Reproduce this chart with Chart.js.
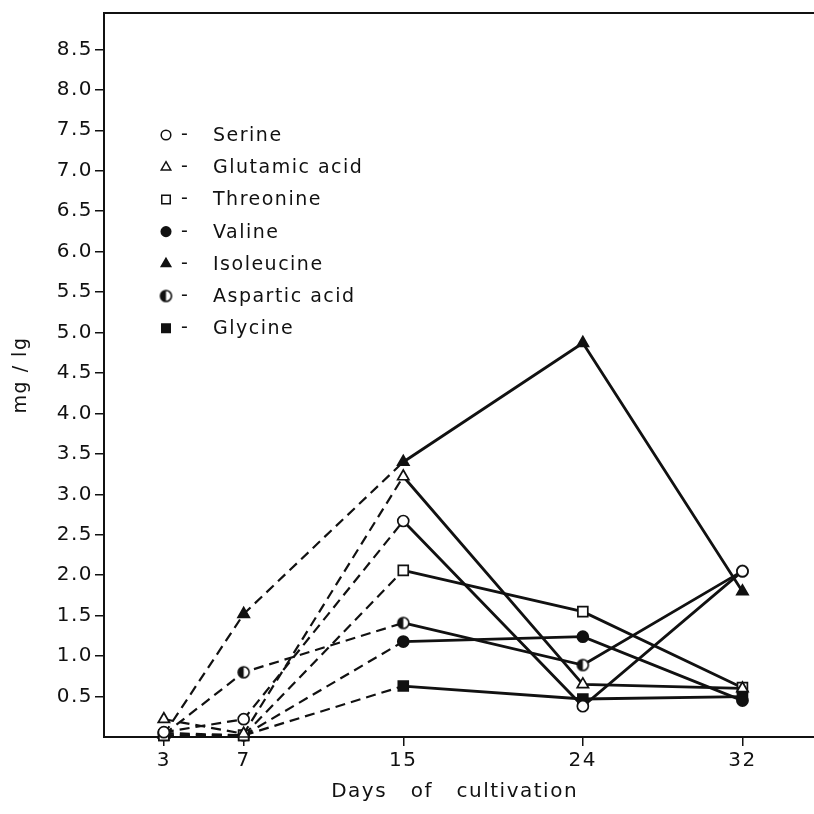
<!DOCTYPE html>
<html>
<head>
<meta charset="utf-8">
<script src="https://cdn.jsdelivr.net/npm/chart.js@4.4.0/dist/chart.umd.min.js"></script>
<style>
  html, body { margin: 0; padding: 0; background: #fff; }
  #wrap { width: 814px; height: 814px; }
</style>
</head>
<body>
<div id="wrap"><canvas id="c" width="814" height="814"></canvas></div>
<script>
// ---- data ----
const days = [3, 7, 15, 24, 32];
const yTicks = [0.5, 1.0, 1.5, 2.0, 2.5, 3.0, 3.5, 4.0, 4.5, 5.0, 5.5, 6.0, 6.5, 7.0, 7.5, 8.0, 8.5];
const seriesNames = ['Serine', 'Glutamic acid', 'Threonine', 'Valine', 'Isoleucine', 'Aspartic acid', 'Glycine'];
const serine     = [0.06, 0.22, 2.67, 0.38, 2.05];
const glutamic   = [0.22, 0.04, 3.22, 0.65, 0.60];
const threonine  = [0.02, 0.02, 2.06, 1.55, 0.61];
const valine     = [0.05, 0.02, 1.18, 1.24, 0.45];
const isoleucine = [0.03, 1.52, 3.40, 4.87, 1.80];
const aspartic   = [0.03, 0.80, 1.41, 0.89, 2.05];
const glycine    = [0.02, 0.02, 0.63, 0.47, 0.50];
const xTitle = 'Days   of   cultivation';
const yTitle = 'mg / lg';

const INK = '#111';
const FONT = '"DejaVu Sans", sans-serif';

function halfCircle(r) {
  const c = document.createElement('canvas');
  const s = Math.ceil(2 * r + 4);
  c.width = s; c.height = s;
  const g = c.getContext('2d');
  const m = s / 2;
  g.beginPath(); g.arc(m, m, r, 0, 2 * Math.PI); g.fillStyle = '#fff'; g.fill();
  g.beginPath(); g.moveTo(m, m - r); g.arc(m, m, r, -Math.PI / 2, Math.PI / 2, true); g.closePath();
  g.fillStyle = INK; g.fill();
  g.beginPath(); g.arc(m, m, r, 0, 2 * Math.PI); g.lineWidth = 1.6; g.strokeStyle = INK; g.stroke();
  return c;
}
const halfMarker = halfCircle(5.5);

const styles = [
  { pointStyle: 'circle',   fill: '#fff', radius: 5.5 },
  { pointStyle: 'triangle', fill: '#fff', radius: 6.5 },
  { pointStyle: 'rect',     fill: '#fff', radius: 7 },
  { pointStyle: 'circle',   fill: INK,    radius: 5.5 },
  { pointStyle: 'triangle', fill: INK,    radius: 6.5 },
  { pointStyle: halfMarker, fill: INK,    radius: 5.5 },
  { pointStyle: 'rect',     fill: INK,    radius: 7 }
];
const values = [serine, glutamic, threonine, valine, isoleucine, aspartic, glycine];

const datasets = values.map((vals, i) => ({
  label: seriesNames[i],
  data: days.map((d, j) => ({ x: d, y: vals[j] })),
  borderColor: INK,
  borderWidth: 2.8,
  pointStyle: styles[i].pointStyle,
  pointRadius: styles[i].radius,
  pointBackgroundColor: styles[i].fill,
  pointBorderColor: INK,
  pointBorderWidth: 1.7,
  tension: 0,
  clip: false,
  segment: {
    borderDash: ctx => (ctx.p1DataIndex <= 2 ? [10, 6] : undefined),
    borderWidth: ctx => (ctx.p1DataIndex <= 2 ? 2.2 : 2.8)
  }
}));

const spacingPlugin = {
  id: 'spacing',
  beforeDraw(chart) { chart.ctx.letterSpacing = '1.5px'; },
  afterDraw(chart) { chart.ctx.letterSpacing = '0px'; }
};

const framePlugin = {
  id: 'frame',
  afterDraw(chart) {
    const { ctx, chartArea } = chart;
    ctx.save();
    ctx.strokeStyle = INK;
    ctx.lineWidth = 2;
    ctx.beginPath();
    ctx.moveTo(chartArea.left - 1, chartArea.top);
    ctx.lineTo(chart.width, chartArea.top);
    ctx.moveTo(chartArea.right - 1, chartArea.bottom);
    ctx.lineTo(chart.width, chartArea.bottom);
    ctx.stroke();
    ctx.restore();
  }
};

const legendPlugin = {
  id: 'innerLegend',
  afterDraw(chart) {
    const { ctx, chartArea } = chart;
    ctx.save();
    ctx.letterSpacing = '1.5px';
    chart.data.datasets.forEach((ds, i) => {
      const y = chartArea.top + 122 + i * 32.2;
      const x = chartArea.left + 62;
      ctx.fillStyle = ds.pointBackgroundColor;
      ctx.strokeStyle = INK;
      ctx.lineWidth = 1.5;
      Chart.helpers.drawPoint(ctx, {
        pointStyle: ds.pointStyle,
        rotation: 0,
        radius: ds.pointStyle === 'rect' ? 6 : (ds.pointStyle === 'triangle' ? 5.5 : 4.8),
        borderWidth: 1.5
      }, x, y);
      ctx.fillStyle = INK;
      ctx.font = '19px ' + FONT;
      ctx.textBaseline = 'middle';
      ctx.textAlign = 'left';
      ctx.fillText('-', x + 15, y);
      ctx.fillText(ds.label, chartArea.left + 109, y + 1);
    });
    ctx.restore();
  }
};

new Chart(document.getElementById('c'), {
  type: 'line',
  data: { datasets },
  options: {
    responsive: false,
    animation: false,
    devicePixelRatio: 1,
    layout: { padding: { left: 0, right: 0, top: 13, bottom: 0 } },
    plugins: { legend: { display: false }, tooltip: { enabled: false } },
    scales: {
      x: {
        type: 'linear',
        min: 0,
        max: 35.15,
        afterBuildTicks: s => { s.ticks = days.map(v => ({ value: v })); },
        afterFit: s => { s.height = 77; s.paddingLeft = 0; s.paddingRight = 0; },
        ticks: {
          color: INK,
          font: { family: FONT, size: 20 },
          padding: 3,
          maxRotation: 0,
          autoSkip: false,
          callback: v => String(v)
        },
        grid: { drawOnChartArea: false, tickLength: 9, color: INK, lineWidth: 1.5 },
        border: { display: true, color: INK, width: 2 },
        title: {
          display: true,
          text: xTitle,
          color: INK,
          font: { family: FONT, size: 20 },
          padding: { top: 0, bottom: 10 }
        }
      },
      y: {
        type: 'linear',
        min: 0,
        max: 8.95,
        afterBuildTicks: s => { s.ticks = yTicks.map(v => ({ value: v })); },
        afterFit: s => { s.width = 104; s.paddingTop = 0; s.paddingBottom = 0; },
        ticks: {
          color: INK,
          font: { family: FONT, size: 20 },
          padding: 2,
          autoSkip: false,
          callback: v => Number(v).toFixed(1)
        },
        grid: { drawOnChartArea: false, tickLength: 9, color: INK, lineWidth: 1.5 },
        border: { display: true, color: INK, width: 2 },
        title: {
          display: true,
          text: yTitle,
          color: INK,
          font: { family: FONT, size: 19 },
          padding: { top: 10, bottom: 0 }
        }
      }
    }
  },
  plugins: [spacingPlugin, framePlugin, legendPlugin]
});
</script>
</body>
</html>
